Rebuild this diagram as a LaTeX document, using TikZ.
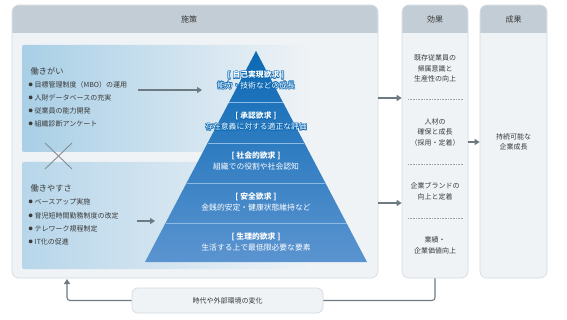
\documentclass[tikz,border=0pt]{standalone}
\usepackage{fontspec}
\setmainfont{Noto Sans CJK JP}
\usetikzlibrary{arrows.meta}
\definecolor{hdr}{HTML}{C3CDD5}
\definecolor{bodyc}{HTML}{EFF3F6}
\definecolor{bord}{HTML}{D3DAE0}
\definecolor{txt}{HTML}{3A3A3A}
\definecolor{boxA}{HTML}{A9CFE6}
\definecolor{boxB}{HTML}{B7D6EA}
\definecolor{pyrTop}{HTML}{0B69B4}
\definecolor{pyrBot}{HTML}{5B94D0}
\definecolor{arr}{HTML}{6E7A82}
\definecolor{sepl}{HTML}{8DB9E3}
\definecolor{sepg}{HTML}{9AA4AB}
\newcommand{\pyrhalo}[1]{%
\rlap{\color{pyrTop}\kern0.6pt #1}%
\rlap{\color{pyrTop}\kern-0.6pt #1}%
\rlap{\color{pyrTop}\raisebox{0.6pt}{#1}}%
\rlap{\color{pyrTop}\raisebox{-0.6pt}{#1}}%
\rlap{\color{pyrTop}\kern0.45pt\raisebox{0.45pt}{#1}}%
\rlap{\color{pyrTop}\kern-0.45pt\raisebox{0.45pt}{#1}}%
\rlap{\color{pyrTop}\kern0.45pt\raisebox{-0.45pt}{#1}}%
\rlap{\color{pyrTop}\kern-0.45pt\raisebox{-0.45pt}{#1}}%
{\color{white}#1}}
\newcommand{\bul}{\makebox[6pt][l]{\raisebox{0.8pt}{\fontsize{4.2}{4.2}\selectfont ●}}}
\begin{document}
\begin{tikzpicture}[x=1pt,y=-1pt,
  every node/.style={inner sep=0pt, text=txt},
  panel/.style={draw=bord, line width=0.6pt, fill=bodyc, rounded corners=7pt, inner sep=0pt},
  hdrtxt/.style={font=\fontsize{8}{9}\selectfont},
  ttl/.style={font=\fontsize{8.2}{9}\selectfont, anchor=west},
  itm/.style={font=\fontsize{7}{8}\selectfont, anchor=west},
  pyrT/.style={font=\bfseries\fontsize{7.8}{8}\selectfont, text=white},
  pyrS/.style={font=\fontsize{7.8}{8}\selectfont, text=white},
  eff/.style={font=\fontsize{7}{10.5}\selectfont, align=center},
  flow/.style={draw=arr, line width=1.3pt, -{Triangle[length=5pt,width=6pt]}},
  dotsep/.style={draw=sepg, line width=0.5pt, dash pattern=on 0.7pt off 0.9pt},
  fb/.style={draw=arr, line width=1.1pt, rounded corners=3pt},
  gbox/.style={rounded corners=2pt, inner sep=0pt, minimum width=290pt, minimum height=107pt, right color=bodyc}
]
\useasboundingbox (0,0) rectangle (567,320);
\fill[white] (0,0) rectangle (567,320);

% ---------- panels ----------
\node[panel, minimum width=366pt, minimum height=273pt] (saku) at (195,141.5) {};
\fill[hdr] (12.3,33) [rounded corners=7pt] -- (12.3,5.3) -- (377.7,5.3) [sharp corners] -- (377.7,33) -- cycle;
\node[hdrtxt] (sakuT) at (189,19) {施策};

\node[panel, minimum width=66pt, minimum height=273pt] (koka) at (435,141.5) {};
\fill[hdr] (402.3,33) [rounded corners=7pt] -- (402.3,5.3) -- (467.7,5.3) [sharp corners] -- (467.7,33) -- cycle;
\node[hdrtxt] (kokaT) at (435,19) {効果};

\node[panel, minimum width=67pt, minimum height=273pt] (seika) at (513.5,141.5) {};
\fill[hdr] (480.3,33) [rounded corners=7pt] -- (480.3,5.3) -- (546.7,5.3) [sharp corners] -- (546.7,33) -- cycle;
\node[hdrtxt] (seikaT) at (513.5,19) {成果};

% ---------- left gradient boxes ----------
\node[gbox, left color=boxA] (gai) at (167,98.5) {};
\node[gbox, left color=boxB] (yasu) at (167,215.5) {};

\draw[arr!85, line width=0.9pt] (45,143) -- (72,169);
\draw[arr!85, line width=0.9pt] (72,143) -- (45,169);

\node[ttl] (gaiT) at (30.5,71) {働きがい};
\node[itm] (g1) at (28.5,84.5) {\bul 目標管理制度（MBO）の運用};
\node[itm] (g2) at (28.5,97.5) {\bul 人財データベースの充実};
\node[itm] (g3) at (28.5,110.5) {\bul 従業員の能力開発};
\node[itm] (g4) at (28.5,123.5) {\bul 組織診断アンケート};

\node[ttl] (yasuT) at (30.5,188) {働きやすさ};
\node[itm] (y1) at (28.5,202) {\bul ベースアップ実施};
\node[itm] (y2) at (28.5,215.5) {\bul 育児短時間勤務制度の改定};
\node[itm] (y3) at (28.5,228.5) {\bul テレワーク規程制定};
\node[itm] (y4) at (28.5,242) {\bul IT化の促進};

\coordinate (ga1) at (138,90);
\coordinate (ga2) at (202,90);
\draw[flow] (ga1) -- (ga2);
\coordinate (ya1) at (137,221);
\coordinate (ya2) at (155,221);
\draw[flow] (ya1) -- (ya2);

% ---------- pyramid ----------
\coordinate (apex) at (256,51);
\coordinate (bl) at (145,262);
\coordinate (br) at (367,262);
\shade[top color=pyrTop, bottom color=pyrBot] (apex) -- (br) -- (bl) -- cycle;
\draw[sepl, line width=0.8pt] (229.2,102) -- (282.8,102);
\draw[sepl, line width=0.8pt] (207.6,143) -- (304.4,143);
\draw[sepl, line width=0.8pt] (186.6,183) -- (325.4,183);
\draw[sepl, line width=0.8pt] (165.5,223) -- (346.5,223);

\node[pyrT] (p1t) at (256,75) {\pyrhalo{[ 自己実現欲求 ]}};
\node[pyrS] (p1s) at (256,85.5) {\pyrhalo{能力・技術などの成長}};
\node[pyrT] (p2t) at (256,116) {\pyrhalo{[ 承認欲求 ]}};
\node[pyrS] (p2s) at (256,127) {\pyrhalo{存在意義に対する適正な評価}};
\node[pyrT] (p3t) at (256,156) {[ 社会的欲求 ]};
\node[pyrS] (p3s) at (256,167) {組織での役割や社会認知};
\node[pyrT] (p4t) at (256,197) {[ 安全欲求 ]};
\node[pyrS] (p4s) at (256,208) {金銭的安定・健康状態維持など};
\node[pyrT] (p5t) at (256,237) {[ 生理的欲求 ]};
\node[pyrS] (p5s) at (256,247.5) {生活する上で最低限必要な要素};

% ---------- effects ----------
\node[eff] (e1) at (435,68.5) {既存従業員の\\帰属意識と\\生産性の向上};
\draw[dotsep] (408,99) -- (463,99);
\node[eff] (e2) at (435,132) {人材の\\確保と成長\\（採用・定着）};
\draw[dotsep] (408,164) -- (463,164);
\node[eff] (e3) at (435,191.5) {企業ブランドの\\向上と定着};
\draw[dotsep] (408,218) -- (463,218);
\node[eff] (e4) at (435,245.5) {業績・\\企業価値向上};

\node[eff] (s1) at (513.5,142) {持続可能な\\企業成長};

\draw[flow] (saku.east |- 0,98) -- (koka.west |- 0,98);
\draw[flow] (saku.east |- 0,203) -- (koka.west |- 0,203);
\draw[flow, line width=1.1pt] (koka.east |- 0,142) -- (seika.west |- 0,142);

% ---------- feedback ----------
\node[draw=bord, line width=0.7pt, fill=bodyc, rounded corners=6pt, minimum width=191pt, minimum height=25pt,
      font=\fontsize{7}{8}\selectfont] (chg) at (227.5,300.5) {時代や外部環境の変化};
\coordinate (fbEnd) at (67,279);
\draw[fb] (koka.south) |- (chg.east);
\draw[fb, -{Triangle[length=5pt,width=6pt]}] (chg.west) -| (fbEnd);
\end{tikzpicture}
\end{document}
